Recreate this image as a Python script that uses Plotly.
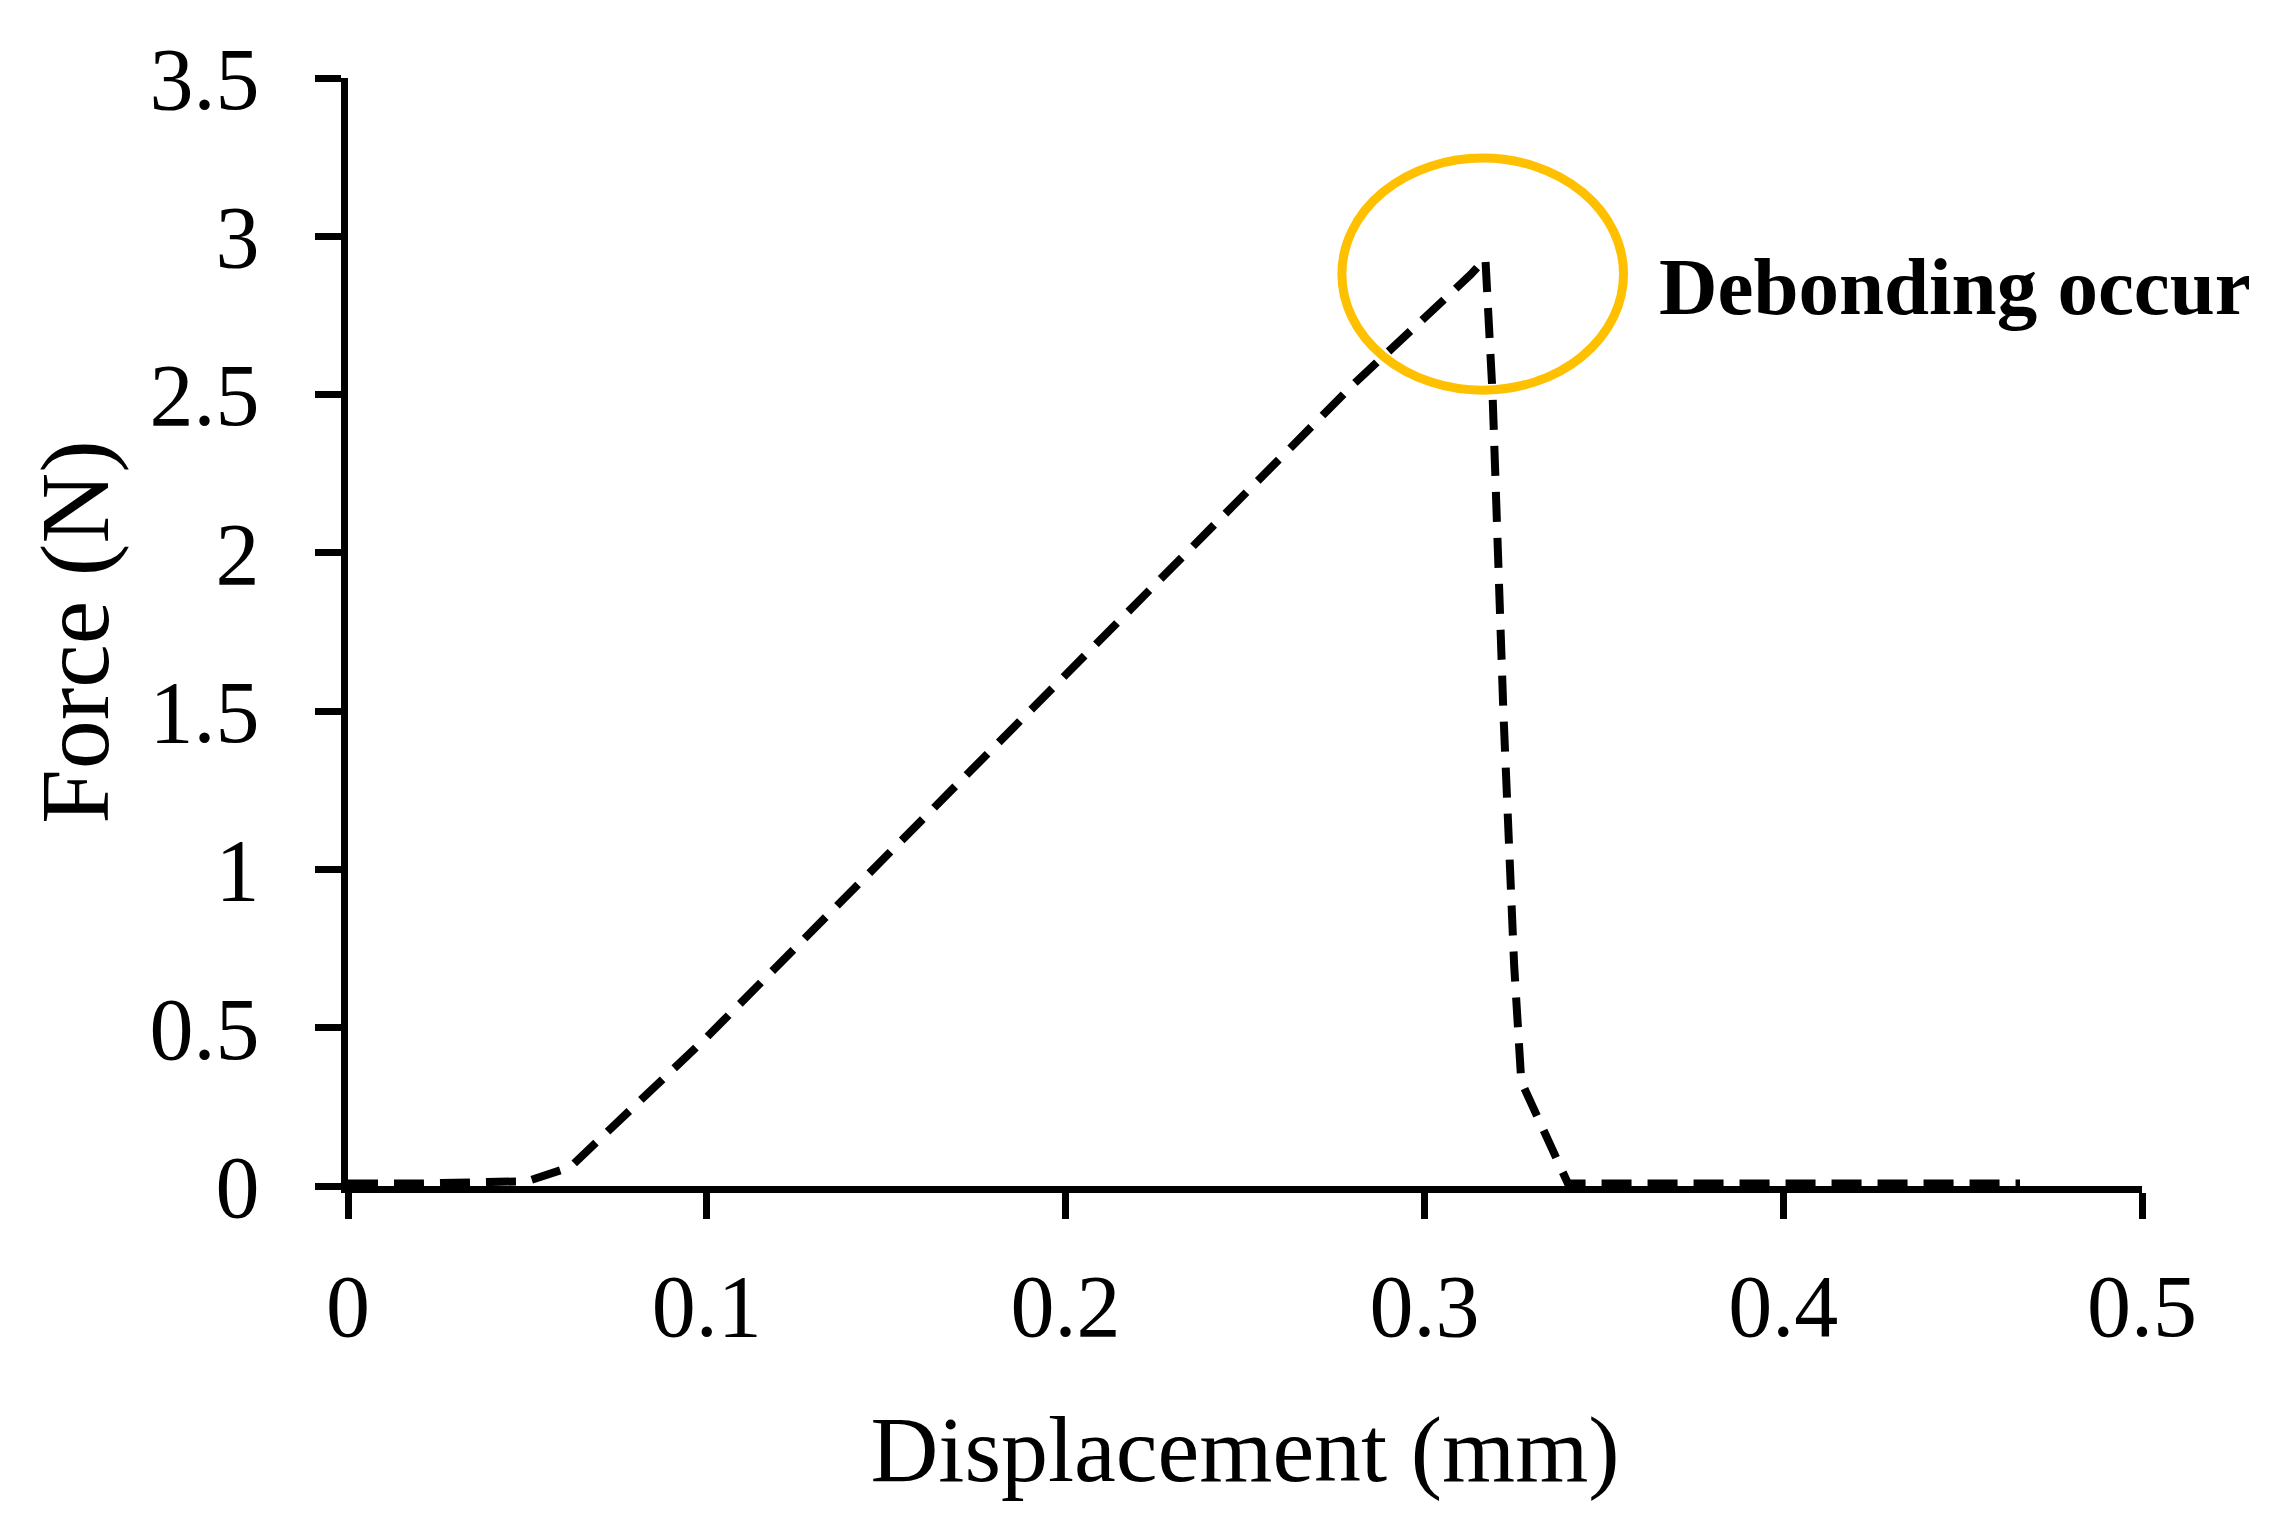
import plotly.graph_objects as go

# force-displacement curve
displacement = [0.0, 0.02, 0.05, 0.062, 0.1, 0.2, 0.28, 0.313, 0.317, 0.319, 0.322, 0.325, 0.327, 0.340, 0.40, 0.466]
force = [0.008, 0.008, 0.015, 0.06, 0.47, 1.61, 2.53, 2.88, 2.93, 2.5, 1.5, 0.7, 0.33, 0.008, 0.008, 0.008]

x_ticks = [0, 0.1, 0.2, 0.3, 0.4, 0.5]
x_labels = ["0", "0.1", "0.2", "0.3", "0.4", "0.5"]
y_ticks = [0, 0.5, 1, 1.5, 2, 2.5, 3, 3.5]
y_labels = ["0", "0.5", "1", "1.5", "2", "2.5", "3", "3.5"]

# highlighted region around the peak
circle_x = [0.277, 0.3555]
circle_y = [2.514, 3.247]
note_text = "Debonding occur"
note_pos = (0.3648, 2.84)

SERIF = "Liberation Serif, Times New Roman, serif"

fig = go.Figure()

fig.add_trace(go.Scatter(
    x=displacement,
    y=force,
    mode="lines",
    line=dict(color="black", width=8, dash="30px,16px"),
    showlegend=False,
    hovertemplate="Displacement: %{x} mm<br>Force: %{y} N<extra></extra>",
))

fig.add_shape(
    type="circle", xref="x", yref="y",
    x0=circle_x[0], x1=circle_x[1], y0=circle_y[0], y1=circle_y[1],
    line=dict(color="#FFC000", width=9),
)

fig.add_annotation(
    x=note_pos[0], y=note_pos[1], xref="x", yref="y",
    text=f"<b>{note_text}</b>", showarrow=False,
    xanchor="left", yanchor="middle",
    font=dict(family=SERIF, size=81, color="black"),
)

axis_common = dict(
    showgrid=False, zeroline=False,
    showline=True, linecolor="black", linewidth=7,
    ticks="outside", ticklen=26, tickwidth=7, tickcolor="black",
    tickfont=dict(family=SERIF, size=88, color="black"),
)

fig.update_xaxes(
    range=[0, 0.5], tickvals=x_ticks, ticktext=x_labels,
    ticklabelstandoff=11,
    title=dict(text="Displacement (mm)", standoff=64,
               font=dict(family=SERIF, size=94, color="black")),
    **axis_common,
)
fig.update_yaxes(
    range=[0, 3.5], tickvals=y_ticks, ticktext=y_labels,
    ticklabelstandoff=38,
    title=dict(text="Force (N)", standoff=11,
               font=dict(family=SERIF, size=98, color="black")),
    **axis_common,
)

fig.update_layout(
    width=2278, height=1528,
    margin=dict(l=340, r=144, t=70, b=350, autoexpand=False),
    plot_bgcolor="white", paper_bgcolor="white",
)

fig.write_html("out.html")
